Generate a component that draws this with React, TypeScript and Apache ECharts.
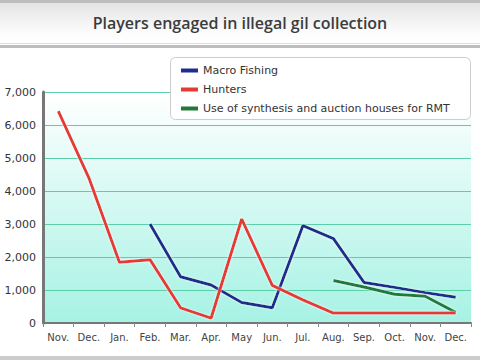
import React, { useEffect, useRef } from "react";
import * as echarts from "echarts";

const months = ["Nov.", "Dec.", "Jan.", "Feb.", "Mar.", "Apr.", "May", "Jun.", "Jul.", "Aug.", "Sep.", "Oct.", "Nov.", "Dec."];
const macroFishing = [null, null, null, 3000, 1400, 1150, 620, 460, 2950, 2560, 1230, 1080, 920, 780];
const hunters = [6420, 4400, 1840, 1920, 460, 150, 3150, 1140, 700, 300, 300, 300, 300, 300];
const synthesisRMT = [null, null, null, null, null, null, null, null, null, 1290, 1090, 870, 810, 320];
const yTicks = [0, 1000, 2000, 3000, 4000, 5000, 6000, 7000];

export default function App() {
  const ref = useRef<HTMLDivElement>(null);
  useEffect(() => {
    document.body.style.margin = "0";
    const chart = echarts.init(ref.current!, null, { renderer: "svg" });
    const font = "'DejaVu Sans', sans-serif";
    const lineStyle = (color: string) => ({
      color,
      width: 3,
      shadowColor: "rgba(255,255,255,0.9)",
      shadowBlur: 2,
    });
    chart.setOption({
      animation: false,
      backgroundColor: "#ffffff",
      graphic: [
        { type: "rect", shape: { x: 0, y: 0, width: 480, height: 3 }, style: { fill: "#bdbdbd" }, z: 0 },
        {
          type: "rect",
          shape: { x: 0, y: 3, width: 480, height: 41 },
          style: {
            fill: new echarts.graphic.LinearGradient(0, 0, 0, 1, [
              { offset: 0, color: "#e4e4e4" },
              { offset: 0.75, color: "#fdfdfd" },
              { offset: 1, color: "#ffffff" },
            ]),
          },
          z: 0,
        },
        { type: "rect", shape: { x: 0, y: 43, width: 480, height: 1 }, style: { fill: "#dddddd" }, z: 0 },
        { type: "rect", shape: { x: 0, y: 45, width: 480, height: 3 }, style: { fill: "#bdbdbd" }, z: 0 },
        { type: "rect", shape: { x: 0, y: 356, width: 480, height: 4 }, style: { fill: "#cccccc" }, z: 0 },
        {
          type: "text",
          x: 240,
          y: 23,
          style: {
            text: "Players engaged in illegal gil collection",
            fill: "#3c3c3c",
            font: "600 16px 'Open Sans', sans-serif",
            align: "center",
            verticalAlign: "middle",
          },
          z: 1,
        },
        {
          type: "rect",
          shape: { x: 170.5, y: 57.5, width: 300, height: 62, r: 5 },
          style: { fill: "#ffffff", stroke: "#cccccc", lineWidth: 1 },
          z: 5,
        },
      ],
      legend: {
        orient: "vertical",
        left: 176,
        top: 60,
        z: 6,
        itemWidth: 17,
        itemHeight: 4,
        itemGap: 8,
        icon: "rect",
        textStyle: { fontSize: 11, color: "#333", fontFamily: font },
        data: ["Macro Fishing", "Hunters", "Use of synthesis and auction houses for RMT"],
      },
      grid: {
        left: 43,
        right: 9,
        top: 92,
        bottom: 37,
        show: true,
        borderWidth: 0,
        backgroundColor: new echarts.graphic.LinearGradient(0, 0, 0, 1, [
          { offset: 0, color: "#ffffff" },
          { offset: 1, color: "#a6f2e4" },
        ]),
      },
      xAxis: {
        type: "category",
        data: months,
        boundaryGap: true,
        axisLine: { lineStyle: { color: "#777", width: 2 } },
        axisTick: { show: true, length: 4, lineStyle: { color: "#888" } },
        axisLabel: { color: "#444", fontSize: 10, fontFamily: font, margin: 9 },
      },
      yAxis: {
        type: "value",
        min: 0,
        max: 7000,
        interval: 1000,
        axisLine: { show: true, lineStyle: { color: "#777", width: 3 } },
        axisTick: { show: false },
        axisLabel: {
          color: "#333",
          fontSize: 11,
          fontFamily: font,
          margin: 7,
          formatter: (v: number) => (yTicks.includes(v) ? v.toLocaleString("en-US") : ""),
        },
        splitLine: { lineStyle: { color: "#5ccfa8", width: 1 } },
      },
      series: [
        { name: "Macro Fishing", type: "line", data: macroFishing, showSymbol: false, symbol: "none", lineStyle: lineStyle("#1f2d8c"), itemStyle: { color: "#1f2d8c" }, connectNulls: false, z: 3 },
        { name: "Hunters", type: "line", data: hunters, showSymbol: false, symbol: "none", lineStyle: lineStyle("#e63a36"), itemStyle: { color: "#e63a36" }, z: 4 },
        { name: "Use of synthesis and auction houses for RMT", type: "line", data: synthesisRMT, showSymbol: false, symbol: "none", lineStyle: lineStyle("#1e7a3c"), itemStyle: { color: "#1e7a3c" }, z: 3 },
      ],
    });
    return () => chart.dispose();
  }, []);
  return <div ref={ref} style={{ width: 480, height: 360, position: "absolute", left: 0, top: 0 }} />;
}
